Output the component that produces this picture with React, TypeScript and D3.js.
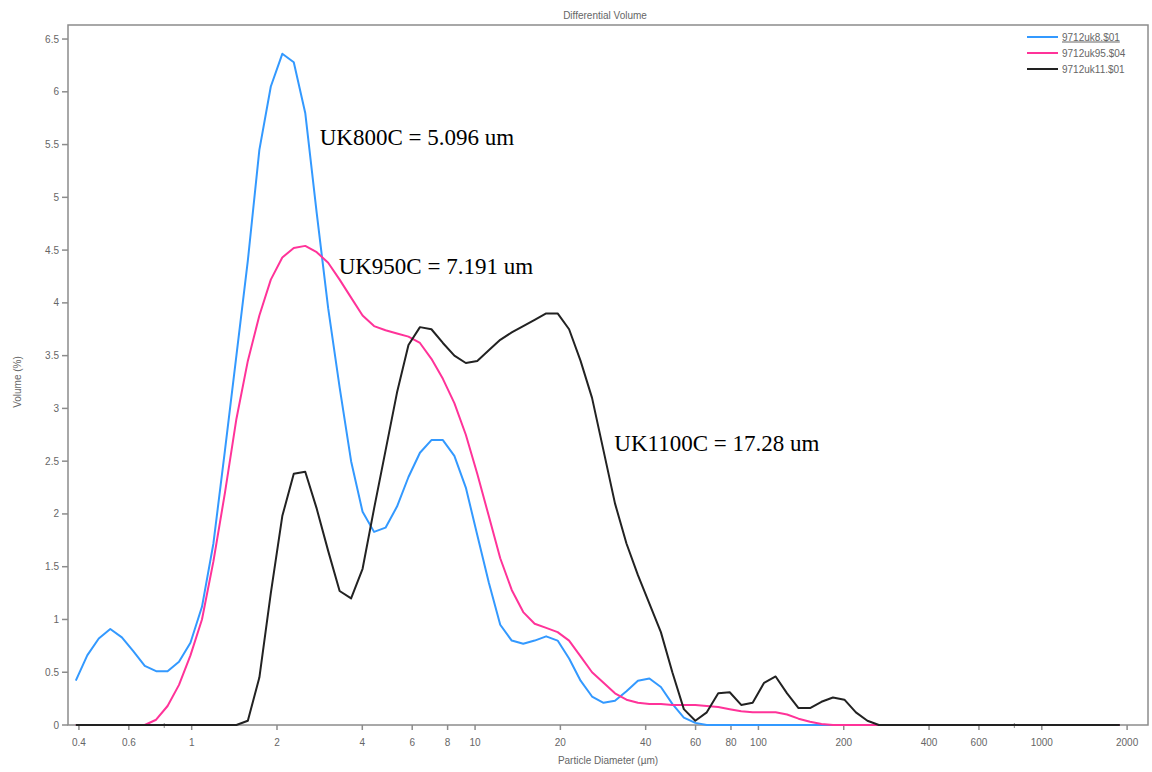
import React, { useEffect, useRef } from 'react';
import * as d3 from 'd3';

// channel diameters (um)
const diameters = [
  0.39, 0.428, 0.47, 0.516, 0.567, 0.622, 0.683, 0.749, 0.822, 0.902,
  0.99, 1.087, 1.193, 1.31, 1.438, 1.578, 1.733, 1.902, 2.088, 2.292,
  2.516, 2.762, 3.031, 3.327, 3.652, 4.009, 4.401, 4.831, 5.303, 5.821,
  6.39, 7.014, 7.699, 8.452, 9.277, 10.18, 11.18, 12.27, 13.47, 14.79,
  16.23, 17.82, 19.56, 21.47, 23.57, 25.87, 28.4, 31.17, 34.22, 37.56,
  41.23, 45.26, 49.68, 54.54, 59.87, 65.72, 72.14, 79.19, 86.93, 95.42,
  104.7, 115, 126.2, 138.5, 152.1, 166.9, 183.2, 201.1, 220.8, 242.4,
  266.1, 292.1, 320.6, 351.9, 386.3, 424.1, 465.5, 511, 560.9, 615.7,
  675.9, 741.9, 814.4, 894, 981.3, 1077, 1183, 1298, 1425, 1564,
  1717, 1885,
];

const uk8 = [
  0.42, 0.66, 0.82, 0.91, 0.83, 0.7, 0.56, 0.51, 0.51, 0.6,
  0.78, 1.12, 1.72, 2.6, 3.5, 4.4, 5.45, 6.05, 6.36, 6.28,
  5.8, 4.85, 3.95, 3.2, 2.5, 2.02, 1.83, 1.87, 2.07, 2.35,
  2.58, 2.7, 2.7, 2.55, 2.25, 1.8, 1.35, 0.95, 0.8, 0.77,
  0.8, 0.84, 0.8, 0.63, 0.42, 0.27, 0.21, 0.23, 0.32, 0.42,
  0.44, 0.36, 0.2, 0.07, 0.02, 0, 0, 0, 0, 0,
  0, 0, 0, 0, 0, 0, 0, 0, 0, 0,
  0, 0, 0, 0, 0, 0, 0, 0, 0, 0,
  0, 0, 0, 0, 0, 0, 0, 0, 0, 0,
  0, 0,
];

const uk95 = [
  0, 0, 0, 0, 0, 0, 0, 0.05, 0.18, 0.38,
  0.66, 1.0, 1.55, 2.2, 2.9, 3.45, 3.88, 4.22, 4.43, 4.52,
  4.54, 4.48, 4.38, 4.22, 4.05, 3.88, 3.78, 3.74, 3.71, 3.68,
  3.62, 3.47, 3.28, 3.05, 2.75, 2.38, 1.98, 1.58, 1.28, 1.07,
  0.96, 0.92, 0.88, 0.8, 0.65, 0.5, 0.4, 0.3, 0.24, 0.21,
  0.2, 0.2, 0.19, 0.19, 0.19, 0.18, 0.17, 0.15, 0.13, 0.12,
  0.12, 0.12, 0.1, 0.06, 0.03, 0.01, 0, 0, 0, 0,
  0, 0, 0, 0, 0, 0, 0, 0, 0, 0,
  0, 0, 0, 0, 0, 0, 0, 0, 0, 0,
  0, 0,
];

const uk11 = [
  0, 0, 0, 0, 0, 0, 0, 0, 0, 0,
  0, 0, 0, 0, 0, 0.04, 0.45, 1.25, 1.98, 2.38,
  2.4, 2.05, 1.65, 1.27, 1.2, 1.48, 2.05, 2.6, 3.15, 3.6,
  3.77, 3.75, 3.62, 3.5, 3.43, 3.45, 3.55, 3.65, 3.72, 3.78,
  3.84, 3.9, 3.9, 3.75, 3.45, 3.1, 2.6, 2.1, 1.72, 1.42,
  1.15, 0.88, 0.5, 0.15, 0.04, 0.12, 0.3, 0.31, 0.19, 0.21,
  0.4, 0.46, 0.3, 0.16, 0.16, 0.22, 0.26, 0.24, 0.12, 0.04,
  0, 0, 0, 0, 0, 0, 0, 0, 0, 0,
  0, 0, 0, 0, 0, 0, 0, 0, 0, 0,
  0, 0,
];

const seriesNames = ['9712uk8.$01', '9712uk95.$04', '9712uk11.$01'];
const seriesColors = ['#3399ff', '#ff3399', '#222222'];

const xTickValues = [0.4, 0.6, 1, 2, 4, 6, 8, 10, 20, 40, 60, 80, 100, 200, 400, 600, 1000, 2000];
const xMinorTicks = [0.8, 800];
const yTickValues = [0, 0.5, 1, 1.5, 2, 2.5, 3, 3.5, 4, 4.5, 5, 5.5, 6, 6.5];

// annotation texts, anchored in data coords (diameter, volume)
const noteTexts = ['UK800C = 5.096 um', 'UK950C = 7.191 um', 'UK1100C = 17.28 um'];
const noteX = [2.83, 3.3, 31];
const noteY = [5.5, 4.27, 2.6];

const W = 1152;
const H = 772;

const App = () => {
  const svgRef = useRef(null);

  useEffect(() => {
    const svg = d3.select(svgRef.current);
    svg.selectAll('*').remove();

    const margin = { top: 25, right: 4, bottom: 47, left: 68 };
    const axisColor = '#8c8c8c';
    const textColor = '#666';
    const font = '"Liberation Sans", Arial, sans-serif';

    const x = d3.scaleLog().domain([0.366, 2370]).range([margin.left, W - margin.right]);
    const y = d3.scaleLinear().domain([0, 6.633]).range([H - margin.bottom, margin.top]);

    svg.append('rect').attr('width', W).attr('height', H).attr('fill', '#fff');

    // title
    svg.append('text')
      .attr('x', 605).attr('y', 19)
      .attr('text-anchor', 'middle')
      .attr('font-family', font).attr('font-size', 10)
      .attr('fill', textColor)
      .text('Differential Volume');

    // frame
    svg.append('rect')
      .attr('x', margin.left).attr('y', margin.top)
      .attr('width', W - margin.right - margin.left)
      .attr('height', H - margin.bottom - margin.top)
      .attr('fill', 'none').attr('stroke', axisColor).attr('stroke-width', 1.5);

    // x axis
    const xAxis = svg.append('g').attr('transform', `translate(0,${H - margin.bottom})`);
    xAxis.selectAll('.tick')
      .data(xTickValues)
      .join('line')
      .attr('x1', (d) => x(d)).attr('x2', (d) => x(d))
      .attr('y1', 0).attr('y2', 5)
      .attr('stroke', axisColor).attr('stroke-width', 1.5);
    xAxis.selectAll('.minor')
      .data(xMinorTicks)
      .join('line')
      .attr('x1', (d) => x(d)).attr('x2', (d) => x(d))
      .attr('y1', -2).attr('y2', 3)
      .attr('stroke', axisColor).attr('stroke-width', 1);
    xAxis.selectAll('text')
      .data(xTickValues)
      .join('text')
      .attr('x', (d) => x(d)).attr('y', 21)
      .attr('text-anchor', 'middle')
      .attr('font-family', font).attr('font-size', 10)
      .attr('fill', textColor)
      .text((d) => String(d));

    svg.append('text')
      .attr('x', 608).attr('y', 764)
      .attr('text-anchor', 'middle')
      .attr('font-family', font).attr('font-size', 10)
      .attr('fill', textColor)
      .text('Particle Diameter (µm)');

    // y axis
    const yAxis = svg.append('g').attr('transform', `translate(${margin.left},0)`);
    yAxis.selectAll('line')
      .data(yTickValues)
      .join('line')
      .attr('x1', -6).attr('x2', 0)
      .attr('y1', (d) => y(d)).attr('y2', (d) => y(d))
      .attr('stroke', axisColor).attr('stroke-width', 1.5);
    yAxis.selectAll('text')
      .data(yTickValues)
      .join('text')
      .attr('x', -9).attr('y', (d) => y(d))
      .attr('dy', '0.35em')
      .attr('text-anchor', 'end')
      .attr('font-family', font).attr('font-size', 10)
      .attr('fill', textColor)
      .text((d) => String(d));

    svg.append('text')
      .attr('transform', 'translate(21,382) rotate(-90)')
      .attr('text-anchor', 'middle')
      .attr('font-family', font).attr('font-size', 10)
      .attr('fill', textColor)
      .text('Volume (%)');

    // curves
    const line = d3.line()
      .x((d) => x(d[0]))
      .y((d) => y(d[1]));

    [uk8, uk95, uk11].forEach((vals, i) => {
      const pts = diameters.map((d, k) => [d, vals[k]]);
      svg.append('path')
        .datum(pts)
        .attr('d', line)
        .attr('fill', 'none')
        .attr('stroke', seriesColors[i])
        .attr('stroke-width', 2)
        .attr('stroke-linejoin', 'round');
    });

    // legend
    const legend = svg.append('g');
    seriesNames.forEach((name, i) => {
      const ly = 37 + i * 16;
      legend.append('line')
        .attr('x1', 1027).attr('x2', 1058)
        .attr('y1', ly).attr('y2', ly)
        .attr('stroke', seriesColors[i]).attr('stroke-width', 2);
      legend.append('text')
        .attr('x', 1062).attr('y', ly)
        .attr('dy', '0.35em')
        .attr('font-family', font).attr('font-size', 10)
        .attr('fill', textColor)
        .attr('text-decoration', i === 0 ? 'underline' : 'none')
        .text(name);
    });

    // annotations
    svg.selectAll('.note')
      .data(noteTexts)
      .join('text')
      .attr('class', 'note')
      .attr('x', (d, i) => x(noteX[i]))
      .attr('y', (d, i) => y(noteY[i]))
      .attr('font-family', '"Liberation Serif", "Times New Roman", serif')
      .attr('font-size', 23)
      .attr('fill', '#000')
      .text((d) => d);
  }, []);

  return (
    <svg
      ref={svgRef}
      width={W}
      height={H}
      style={{ position: 'absolute', left: 0, top: 0 }}
    />
  );
};

export default App;
